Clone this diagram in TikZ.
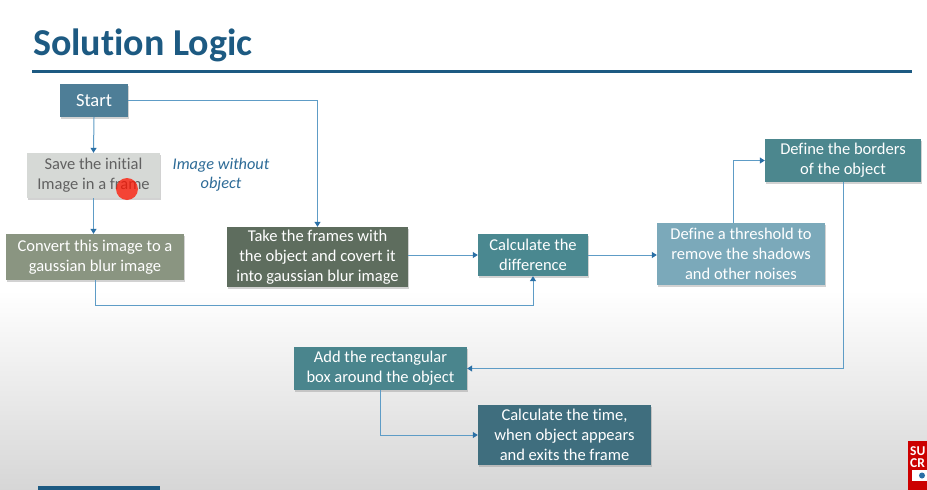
\documentclass[tikz,border=0pt]{standalone}
\usepackage{fontspec}
\setmainfont{Carlito}[Ligatures=NoCommon]
\usetikzlibrary{arrows.meta,shadows,calc}
\definecolor{titleblue}{HTML}{1D5A82}
\definecolor{linec}{HTML}{5E9CC6}
\definecolor{tipc}{HTML}{2A6FA5}
\definecolor{cStart}{HTML}{4E7E97}
\definecolor{cSave}{HTML}{D6D9D6}
\definecolor{cConv}{HTML}{8A9581}
\definecolor{cTake}{HTML}{5E6D5E}
\definecolor{cDiff}{HTML}{4A8890}
\definecolor{cThr}{HTML}{7BA9BA}
\definecolor{cBord}{HTML}{4C878E}
\definecolor{cAdd}{HTML}{4A858D}
\definecolor{cTime}{HTML}{3F6E7E}
\definecolor{noteblue}{HTML}{2D6B97}
\tikzset{
  box/.style={rectangle, draw=none, text=white, align=center,
    font=\fontsize{16.5}{19.8}\selectfont, inner sep=1pt,
    drop shadow={opacity=0.35, shadow xshift=1pt, shadow yshift=-1.5pt}},
  conn/.style={draw=linec, line width=1pt, -{Triangle[width=6pt,length=5pt,fill=tipc,color=tipc]}},
  logotext/.style={anchor=base west, inner sep=0pt, text=white, font=\fontsize{13.5}{13.5}\selectfont\bfseries}
}
\begin{document}
\begin{tikzpicture}[x=1pt,y=-1pt]
\useasboundingbox (0,0) rectangle (927,490);
\fill[white] (0,0) rectangle (927,490);
\shade[top color=white, bottom color=black!16] (0,290) rectangle (927,490);
% title
\node[anchor=base west, inner sep=0pt, text=titleblue, font=\fontsize{38}{44}\selectfont\bfseries] (title) at (33,55) {Solution Logic};
\draw[titleblue, line width=2.6pt] (32,71.5) -- (912,71.5);
% boxes
\node[box, fill=cStart, minimum width=68pt, minimum height=33pt, font=\fontsize{18.5}{20}\selectfont] (start) at (94,100.5) {Start};
\node[box, fill=cSave, text=black!62, minimum width=133pt, minimum height=45pt] (save) at (93.5,175.5) {Save the initial\\Image in a frame};
\node[anchor=center, inner sep=0pt, text=noteblue, align=center, font=\fontsize{16.3}{19.5}\selectfont\itshape] (note) at (221,174.5) {Image without\\object};
\node[box, fill=cConv, minimum width=178pt, minimum height=46pt] (conv) at (95,257) {Convert this image to a\\gaussian blur image};
\node[box, fill=cTake, minimum width=181pt, minimum height=60pt] (take) at (317.5,257) {Take the frames with\\the object and covert it\\into gaussian blur image};
\node[box, fill=cDiff, minimum width=110pt, minimum height=42pt] (diff) at (533,255) {Calculate the\\difference};
\node[box, fill=cThr, minimum width=168pt, minimum height=62pt] (thr) at (741,254) {Define a threshold to\\remove the shadows\\and other noises};
\node[box, fill=cBord, minimum width=156pt, minimum height=43pt] (bord) at (843,160.5) {Define the borders\\of the object};
\node[box, fill=cAdd, minimum width=173pt, minimum height=43pt] (add) at (380.5,368.5) {Add the rectangular\\box around the object};
\node[box, fill=cTime, minimum width=173pt, minimum height=60pt] (time) at (564.5,435) {Calculate the time,\\when object appears\\and exits the frame};
% connectors
\draw[conn] (start.south) -- (save.north);
\draw[conn] (start.east) -| (take.north);
\draw[conn] (save.south) -- (save.south |- conv.north);
\coordinate (c1) at ($(conv.south)+(0,25)$);
\draw[conn] (conv.south) -- (c1) -| (diff.south);
\draw[conn] (diff.west -| take.east) -- (diff.west);
\draw[conn] (diff.east) -- (diff.east -| thr.west);
\draw[conn] ([xshift=-8pt]thr.north) |- (bord.west);
\draw[conn] (bord.south) |- (add.east);
\draw[conn] (add.south) |- (time.west);
% cursor dot
\fill[red!85!orange, opacity=0.75] (127,189) circle (11);
% bottom-left bar
\fill[titleblue] (38,486) rectangle (160,490);
% logo (cut off)
\fill[red!80!black] (908,441) rectangle (927,490);
\node[logotext] (logo1) at (910,455) {SU};
\node[logotext] (logo2) at (910,467) {CR};
\fill[white] (912,470) rectangle (927,481);
\fill[tipc] (922,475.5) circle (3);
\end{tikzpicture}
\end{document}
